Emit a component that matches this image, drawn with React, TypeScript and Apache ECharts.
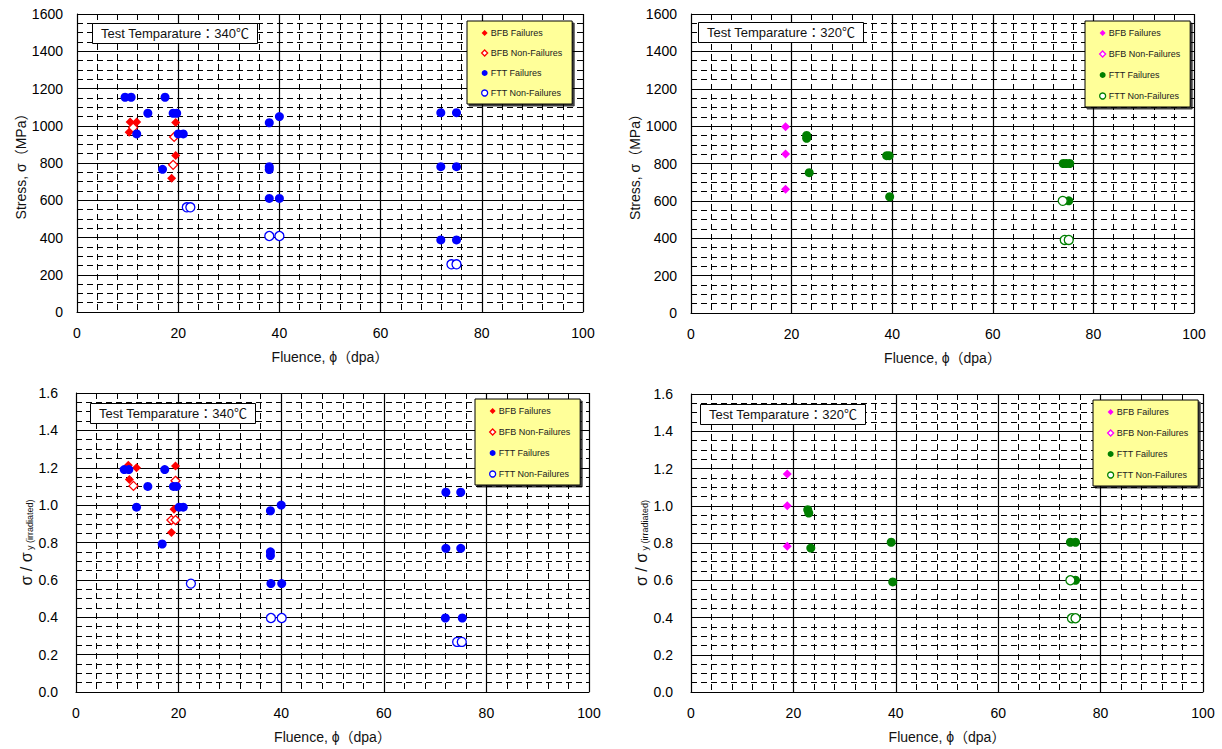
import React, { useEffect, useRef } from "react";
import * as echarts from "echarts";

// ---------- DATA ----------
const xTicks = [0, 20, 40, 60, 80, 100];
const stressTicks = [0, 200, 400, 600, 800, 1000, 1200, 1400, 1600];
const ratioTicks = [0, 0.2, 0.4, 0.6, 0.8, 1.0, 1.2, 1.4, 1.6];

const legendNames = ["BFB Failures", "BFB Non-Failures", "FTT Failures", "FTT Non-Failures"];
const panelTitles = ["Test Temparature：340℃", "Test Temparature：320℃", "Test Temparature：340℃", "Test Temparature：320℃"];

// Panel A : 340C, stress
const bfbFail340Stress = [[10.5, 1020], [11.8, 1020], [10.3, 965], [19.5, 1017], [19.5, 840], [18.7, 718]];
const bfbNon340Stress = [[11.1, 990], [19.2, 940], [19.0, 790]];
const fttFail340Stress = [
  [9.5, 1153], [10.7, 1153], [14.0, 1067], [11.8, 956], [17.4, 1153], [19.0, 1067], [19.7, 1067],
  [20.0, 956], [21.0, 956], [16.9, 766], [38.0, 1016], [40.0, 1049], [38.0, 780], [38.0, 765],
  [38.0, 610], [40.0, 610], [71.9, 1070], [75.0, 1070], [71.9, 780], [75.0, 780], [71.9, 387], [75.0, 387],
];
const fttNon340Stress = [[21.7, 562], [22.4, 562], [38.0, 408], [40.0, 408], [74.0, 256], [75.0, 256]];

// Panel B : 320C, stress
const bfbFail320Stress = [[18.8, 997], [18.8, 851], [18.8, 662]];
const bfbNon320Stress: number[][] = [];
const fttFail320Stress = [
  [23.0, 950], [23.0, 935], [23.5, 751], [38.9, 842], [39.4, 842], [39.5, 622],
  [74.0, 800], [74.6, 800], [75.3, 800], [75.1, 600],
];
const fttNon320Stress = [[73.9, 600], [74.3, 391], [75.1, 391]];

// Panel C : 340C, normalized stress
const bfbFail340Ratio = [[10.2, 1.214], [11.8, 1.2], [10.4, 1.137], [19.4, 1.21], [19.1, 0.978], [18.6, 0.853]];
const bfbNon340Ratio = [[11.2, 1.103], [19.4, 1.13], [18.6, 0.92], [19.4, 0.92]];
const fttFail340Ratio = [
  [9.4, 1.19], [10.3, 1.19], [17.3, 1.19], [14.0, 1.10], [19.0, 1.10], [19.6, 1.10], [11.8, 0.989],
  [20.1, 0.989], [20.9, 0.989], [16.8, 0.792], [37.9, 0.97], [40.0, 1.0], [37.9, 0.75], [37.9, 0.73],
  [38.0, 0.58], [40.1, 0.58], [72.1, 1.069], [75.0, 1.069], [72.1, 0.769], [75.0, 0.769], [72.0, 0.396], [75.3, 0.396],
];
const fttNon340Ratio = [[22.4, 0.58], [38.0, 0.396], [40.1, 0.396], [74.3, 0.268], [75.2, 0.268]];

// Panel D : 320C, normalized stress
const bfbFail320Ratio = [[18.8, 1.171], [18.8, 1.0], [18.8, 0.782]];
const bfbNon320Ratio: number[][] = [];
const fttFail320Ratio = [
  [22.8, 0.979], [23.0, 0.961], [23.4, 0.773], [39.1, 0.804], [74.1, 0.804], [75.1, 0.804], [39.4, 0.591], [75.1, 0.6],
];
const fttNon320Ratio = [[74.1, 0.6], [74.4, 0.396], [75.1, 0.396]];

const panelData = [
  [bfbFail340Stress, bfbNon340Stress, fttFail340Stress, fttNon340Stress],
  [bfbFail320Stress, bfbNon320Stress, fttFail320Stress, fttNon320Stress],
  [bfbFail340Ratio, bfbNon340Ratio, fttFail340Ratio, fttNon340Ratio],
  [bfbFail320Ratio, bfbNon320Ratio, fttFail320Ratio, fttNon320Ratio],
];

const bfbColors = ["#FF0000", "#FF00FF", "#FF0000", "#FF00FF"];
const fttColors = ["#0000FF", "#007F00", "#0000FF", "#007F00"];

// ---------- LAYOUT ----------
const FONT = "'Liberation Sans', Arial, 'Noto Sans CJK JP', sans-serif";
const grids = [
  { left: 77, top: 14, width: 506, height: 298 },
  { left: 691, top: 14, width: 503, height: 299 },
  { left: 76, top: 393, width: 513, height: 299 },
  { left: 691, top: 394, width: 512, height: 298 },
];
const titlePos = [
  { left: 92, top: 23 },
  { left: 698, top: 22 },
  { left: 90, top: 403 },
  { left: 700, top: 404 },
];
const legendPos = [
  { left: 467, top: 21 },
  { left: 1085, top: 21 },
  { left: 475, top: 399 },
  { left: 1093, top: 400 },
];

export default function App() {
  const ref = useRef<HTMLDivElement>(null);
  useEffect(() => {
    if (!ref.current) return;
    const chart = echarts.init(ref.current, undefined, { renderer: "svg" });

    const xAxes = grids.map((_, i) => ({
      gridIndex: i,
      type: "value",
      min: xTicks[0],
      max: xTicks[xTicks.length - 1],
      interval: xTicks[1] - xTicks[0],
      name: "Fluence, ϕ（dpa）",
      nameLocation: "middle",
      nameGap: 38,
      nameTextStyle: { fontSize: 14, color: "#111", fontFamily: FONT },
      axisLine: { show: true, onZero: false, lineStyle: { color: "#000", width: 1 } },
      axisTick: { show: false },
      axisLabel: { fontSize: 14, color: "#000", margin: 14, fontFamily: FONT },
      splitLine: { show: true, lineStyle: { color: "#000", width: 1.2 } },
      minorTick: { show: false, splitNumber: 5 },
      minorSplitLine: { show: true, lineStyle: { color: "#000", width: 1, type: [6, 4] } },
    }));

    const yAxes = grids.map((_, i) => {
      const isStress = i < 2;
      const ticks = isStress ? stressTicks : ratioTicks;
      return {
        gridIndex: i,
        type: "value",
        min: ticks[0],
        max: ticks[ticks.length - 1],
        interval: ticks[1] - ticks[0],
        name: isStress ? "Stress, σ（MPa）" : "{m|σ / σ}{s| y (irradiated)}",
        nameLocation: "middle",
        nameGap: isStress ? 40 : 38,
        nameTextStyle: {
          fontSize: 14,
          color: "#111",
          fontFamily: FONT,
          rich: {
            m: { fontSize: 16, color: "#111", fontFamily: FONT, verticalAlign: "bottom", lineHeight: 18 },
            s: { fontSize: 9, color: "#111", fontFamily: FONT, verticalAlign: "bottom", lineHeight: 14 },
          },
        },
        axisLine: { show: true, onZero: false, lineStyle: { color: "#000", width: 1 } },
        axisTick: { show: false },
        axisLabel: {
          fontSize: 14,
          color: "#000",
          margin: isStress ? 14 : 18,
          fontFamily: FONT,
          formatter: (v: number) => (isStress ? String(v) : v.toFixed(1)),
        },
        splitLine: { show: true, lineStyle: { color: "#000", width: 1.2 } },
        minorTick: { show: false, splitNumber: 4 },
        minorSplitLine: { show: true, lineStyle: { color: "#000", width: 1, type: [6, 4] } },
      };
    });

    const series: any[] = [];
    const legends: any[] = [];
    panelData.forEach((sets, p) => {
      const names = legendNames.map((n) => `${n}#${p}`);
      const styles = [
        { symbol: "diamond", color: bfbColors[p], empty: false },
        { symbol: "diamond", color: bfbColors[p], empty: true },
        { symbol: "circle", color: fttColors[p], empty: false },
        { symbol: "circle", color: fttColors[p], empty: true },
      ];
      sets.forEach((d, k) => {
        const st = styles[k];
        series.push({
          name: names[k],
          type: "scatter",
          xAxisIndex: p,
          yAxisIndex: p,
          data: d,
          symbol: st.symbol,
          symbolSize: st.symbol === "diamond" ? 9 : 9,
          itemStyle: st.empty
            ? { color: "#FFFFFF", borderColor: st.color, borderWidth: 1.3, opacity: 1 }
            : { color: st.color, borderWidth: 0, opacity: 1 },
          emphasis: { disabled: true },
          z: 2 + k,
        });
      });
      legends.push({
        show: true,
        orient: "vertical",
        left: legendPos[p].left,
        top: legendPos[p].top,
        data: names.map((n, k) => ({
          name: n,
          icon: styles[k].symbol,
          itemStyle: styles[k].empty
            ? { color: "#FFFFFF", borderColor: styles[k].color, borderWidth: 1.3 }
            : { color: styles[k].color, borderWidth: 0 },
        })),
        formatter: (name: string) => name.split("#")[0],
        itemWidth: 6,
        itemHeight: 6,
        itemGap: p === 0 ? 8 : 9,
        padding: [6, 10, 5, 14],
        backgroundColor: "#FFFF99",
        borderColor: "#000",
        borderWidth: 1,
        shadowColor: "rgba(0,0,0,0.75)",
        shadowOffsetX: 2,
        shadowOffsetY: 2,
        shadowBlur: 0,
        selectedMode: false,
        textStyle: { fontSize: 9, color: "#222", fontFamily: FONT, lineHeight: 12, padding: [0, 0, 0, -2] },
      });
    });

    const titles = panelTitles.map((t, i) => ({
      text: t,
      left: titlePos[i].left,
      top: titlePos[i].top,
      padding: [4, 9, 4, 9],
      backgroundColor: "#FFFFFF",
      borderColor: "#000",
      borderWidth: 1,
      textStyle: { fontSize: 13, fontWeight: "normal", color: "#111", fontFamily: FONT, lineHeight: 13 },
    }));

    chart.setOption({
      animation: false,
      backgroundColor: "#FFFFFF",
      textStyle: { fontFamily: FONT },
      title: titles,
      legend: legends,
      grid: grids.map((g) => ({ ...g, containLabel: false })),
      xAxis: xAxes,
      yAxis: yAxes,
      series,
    });
    return () => chart.dispose();
  }, []);
  return <div ref={ref} style={{ position: "fixed", left: 0, top: 0, width: 1222, height: 749 }} />;
}
